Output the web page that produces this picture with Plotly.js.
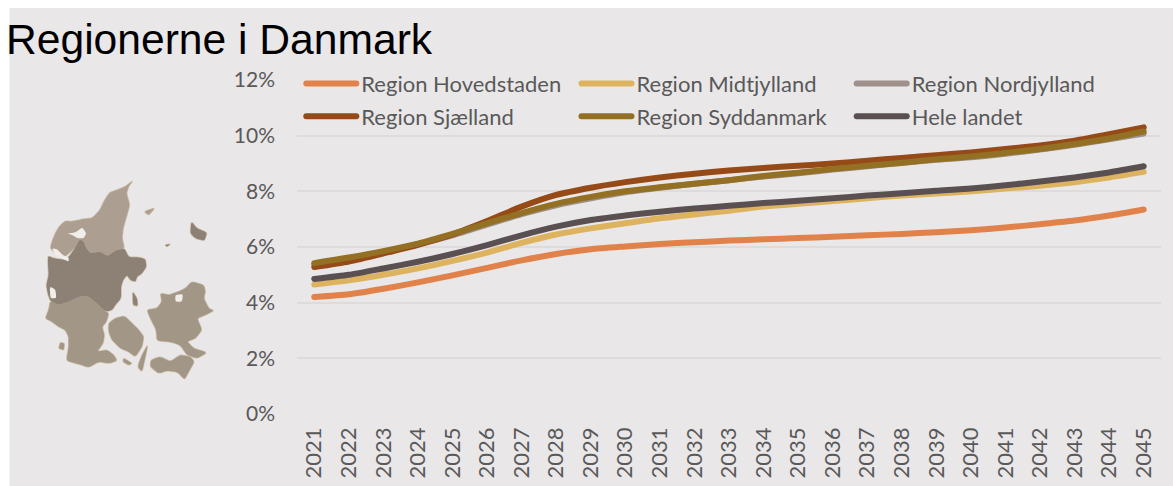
<!DOCTYPE html>
<html><head><meta charset="utf-8">
<script src="https://cdn.plot.ly/plotly-3.0.1.min.js"></script>
<style>
html,body{margin:0;padding:0;background:#fff;overflow:hidden}
#c{width:1173px;height:486px}
.js-line{stroke-linecap:round !important}
.legendtext{font-size:22px !important}
</style></head><body><div id="c"></div>
<script>
const years = ['2021','2022','2023','2024','2025','2026','2027','2028','2029','2030','2031','2032','2033','2034','2035','2036','2037','2038','2039','2040','2041','2042','2043','2044','2045'];
const hovedstaden = [4.20,4.30,4.50,4.73,4.98,5.25,5.52,5.75,5.92,6.02,6.11,6.17,6.23,6.28,6.32,6.37,6.42,6.47,6.53,6.60,6.70,6.82,6.95,7.13,7.35];
const midtjylland = [4.65,4.80,5.00,5.23,5.50,5.80,6.15,6.45,6.67,6.85,7.03,7.17,7.30,7.45,7.55,7.65,7.75,7.85,7.92,8.00,8.10,8.20,8.33,8.50,8.70];
const nordjylland = [5.38,5.60,5.83,6.10,6.42,6.80,7.18,7.50,7.75,7.97,8.13,8.27,8.40,8.53,8.65,8.78,8.90,9.02,9.13,9.22,9.35,9.50,9.67,9.87,10.08];
const sjaelland = [5.28,5.48,5.77,6.08,6.45,6.93,7.45,7.87,8.13,8.33,8.50,8.63,8.75,8.84,8.92,9.00,9.10,9.20,9.30,9.40,9.52,9.65,9.82,10.05,10.30];
const syddanmark = [5.42,5.62,5.85,6.12,6.47,6.85,7.22,7.55,7.80,8.00,8.15,8.27,8.40,8.55,8.67,8.80,8.92,9.03,9.15,9.25,9.38,9.52,9.70,9.90,10.15];
const heleLandet = [4.85,5.00,5.23,5.47,5.75,6.07,6.42,6.73,6.97,7.13,7.27,7.38,7.48,7.58,7.66,7.75,7.85,7.93,8.02,8.10,8.22,8.35,8.50,8.68,8.90];
const seriesNames = ['Region Hovedstaden','Region Midtjylland','Region Nordjylland','Region Sjælland','Region Syddanmark','Hele landet'];
const seriesValues = [hovedstaden,midtjylland,nordjylland,sjaelland,syddanmark,heleLandet];
const seriesColors = ['#E1824A','#DDB35F','#9E908A','#964A17','#937023','#5A5052'];
const yTicks = [0,2,4,6,8,10,12];

// Decorative map of Denmark: outlines in the coordinates of a 240x220 picture box, scaled by 3
const mapColors = {north:'#AC9F91',mid:'#8C8174',south:'#A29787',isle:'#A29787',hole:'#F1EDE8'};
const mapParts = [
 ['north',[397,33,385,48,378,70,388,105,378,140,368,175,365,205,372,235,345,242,322,258,300,245,270,250,258,235,250,215,238,208,225,232,205,250,195,258,170,252,150,235,155,215,165,190,178,168,195,153,215,155,245,148,275,145,298,122,312,92,328,68,350,60,375,50]],
 ['south',[150,393,175,405,205,395,235,380,262,378,290,400,315,425,325,430,318,455,305,470,312,495,308,520,290,545,320,540,340,555,350,572,325,580,295,575,265,592,235,582,198,572,205,530,205,500,195,480,175,470,155,455,135,445,145,420]],
 ['mid',[143,258,160,265,195,270,210,255,225,232,238,208,250,215,258,235,270,250,300,245,322,258,345,242,372,235,385,262,415,262,435,268,438,290,425,310,410,320,405,335,390,330,380,315,368,330,362,350,362,385,345,405,335,420,315,425,290,400,262,378,235,380,205,395,175,405,150,393,142,370,138,345,145,315,143,285]],
 ['isle',[325,460,345,445,372,438,395,460,415,480,430,500,425,530,405,560,385,545,360,535,335,510,325,485]],
 ['isle',[440,420,470,415,485,395,480,370,505,375,535,365,555,355,575,335,610,345,615,365,610,385,625,415,640,422,615,435,590,445,605,480,585,505,560,515,580,535,620,548,590,565,560,555,540,525,510,515,470,512,468,480,450,445]],
 ['isle',[452,570,480,560,510,575,540,555,570,560,582,575,565,605,553,628,530,605,500,602,475,610,450,590]],
 ['mid',[573,155,590,175,620,188,612,212,585,205,570,190]],
 ['north',[432,125,463,114,445,135]],
 ['isle',[442,525,435,560,425,605,412,590,425,555]],
 ['mid',[495,225,510,222,500,230]],
 ['mid',[397,365,410,385,412,408,398,405]],
 ['isle',[180,518,192,520,190,540,175,535]],
 ['isle',[370,565,395,580,385,585,368,575]],
 ['hole',[200,190,225,188,245,172,258,190,250,205,232,205,215,195]],
 ['hole',[155,235,170,238,190,258,205,262,205,275,190,268,165,255]],
 ['hole',[148,350,165,358,168,385,150,385]],
 ['hole',[525,375,548,372,545,395,525,395]]
];

const W=1173,H=486,L=296.7,R=12,T=80,B=72;
const px=x=>(x-L)/(W-L-R), py=y=>1-(y-T)/(H-T-B);
const smooth=(p)=>{
  const n=p.length/2, X=i=>px(p[2*(i%n)]/3), Y=i=>py(170+p[2*(i%n)+1]/3);
  const at=(i,t)=>(X(i)*(1-t)+X(i+1)*t)+','+(Y(i)*(1-t)+Y(i+1)*t);
  let d='M'+at(n-1,0.75);
  for(let i=0;i<n;i++){ d+='Q'+X(i)+','+Y(i)+' '+at(i,0.25)+'L'+at(i,0.75); }
  return d+'Z';
};
const land=mapParts.filter(m=>m[0]!=='hole');
const mapShapes = land.map(([k,p])=>({type:'path',xref:'paper',yref:'paper',path:smooth(p),fillcolor:'#CDBFA8',line:{color:'#CDBFA8',width:1.5},layer:'below'}))
 .concat(mapParts.map(([k,p])=>({type:'path',xref:'paper',yref:'paper',path:smooth(p),fillcolor:mapColors[k],line:{width:0},layer:'below'})));
const bg = {type:'rect',xref:'paper',yref:'paper',x0:px(9),x1:px(1173),y0:py(8),y1:py(486),fillcolor:'#E9E7E8',line:{width:0},layer:'below'};

const traces = seriesNames.map((n,i)=>({
  type:'scatter',mode:'lines',name:n,x:years,y:seriesValues[i],
  line:{color:seriesColors[i],width:6,shape:'spline',smoothing:0.6},hoverinfo:'skip'
}));
const font='Lato, sans-serif';
Plotly.newPlot('c',traces,{
  width:W,height:H,margin:{l:L,r:R,t:T,b:B,pad:0},
  paper_bgcolor:'#fff',plot_bgcolor:'rgba(0,0,0,0)',
  font:{family:font,color:'#595959',size:21},
  title:{text:'Regionerne i Danmark',font:{family:'Liberation Sans, Arial, sans-serif',size:42.6,color:'#000'},x:6/W,xanchor:'left',y:1-39/H,yanchor:'middle',pad:{l:0,t:0,b:0,r:0}},
  xaxis:{type:'category',tickangle:-90,tickfont:{size:22,color:'#595959'},showgrid:false,zeroline:false,showline:false,ticks:'',ticklen:0,ticklabelstandoff:8,range:[-0.5,24.5]},
  yaxis:{range:[0,12],tickvals:yTicks,ticktext:yTicks.map(v=>v+'%'),tickfont:{size:21,color:'#595959'},gridcolor:'#DDDBDC',gridwidth:2,zeroline:false,showline:false,ticks:'',ticklen:0,ticklabelstandoff:21},
  legend:{orientation:'h',x:px(301),xanchor:'left',y:py(62),yanchor:'top',itemwidth:50,entrywidth:210.2,entrywidthmode:'pixels',bgcolor:'rgba(0,0,0,0)',font:{size:23,color:'#595959'},traceorder:'normal',itemclick:false,itemdoubleclick:false},
  shapes:[bg].concat(mapShapes),
  showlegend:true
},{displayModeBar:false,staticPlot:true});
</script></body></html>
